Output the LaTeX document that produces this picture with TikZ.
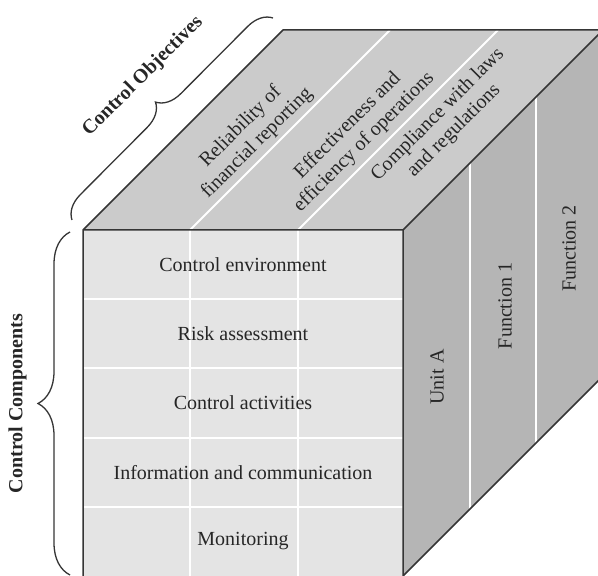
\documentclass[tikz,border=0pt]{standalone}
\usepackage{fontspec}
\setmainfont{Liberation Serif}
\usepackage{xcolor}
\usepackage{tikz}
\usetikzlibrary{calc,decorations.pathreplacing}

\definecolor{frontgray}{HTML}{E4E4E4}
\definecolor{topgray}{HTML}{CBCBCB}
\definecolor{sidegray}{HTML}{B5B5B5}
\definecolor{edgegray}{HTML}{353535}
\definecolor{inkgray}{HTML}{262626}

\begin{document}
\begin{tikzpicture}[x=0.5pt, y=0.5pt,
    edge/.style={draw=edgegray, line width=0.75pt, line join=round},
    gap/.style={draw=white, line width=1pt},
    lbl/.style={text=inkgray, font=\fontsize{10}{11.5}\selectfont, align=center, inner sep=0pt},
    hdr/.style={text=inkgray, font=\fontsize{10}{11.5}\selectfont\bfseries, inner sep=0pt},
    curly/.style={draw=edgegray, line width=0.65pt, decorate, decoration={brace, amplitude=#1}}]
    \useasboundingbox (0,0) rectangle (598,576);

    % cube corners, depth vector (200,200)
    \coordinate (A) at (83,0);
    \coordinate (B) at (403,0);
    \coordinate (C) at (403,346);
    \coordinate (D) at (83,346);
    \coordinate (E) at (283,546);
    \coordinate (F) at (603,546);
    \coordinate (G) at (603,200);

    \fill[frontgray] (A) -- (B) -- (C) -- (D) -- cycle;
    \fill[topgray] (D) -- (C) -- (F) -- (E) -- cycle;
    \fill[sidegray] (B) -- (G) -- (F) -- (C) -- cycle;

    % white gaps between the cells
    \foreach \y in {69.2, 138.4, 207.6, 276.8}
        \draw[gap] (83,\y) -- (403,\y);
    \foreach \x in {190, 298} {
        \draw[gap] (\x,0) -- (\x,346);
        \draw[gap] (\x,346) -- ++(200,200);
    }
    \foreach \s in {66.7, 133.3}
        \draw[gap] ($(B)+(\s,\s)$) -- ($(C)+(\s,\s)$);

    \draw[edge] (A) -- (D) -- (E) -- (F);
    \draw[edge] (D) -- (C) -- (F);
    \draw[edge] (C) -- (B) -- (G);

    % components on the front
    \foreach \name/\txt [count=\i] in {env/Control environment, risk/Risk assessment,
        act/Control activities, info/Information and communication, mon/Monitoring}
        \node[lbl] (\name) at (243, {380.6-69.2*\i}) {\txt};

    % objectives on the top
    \node[lbl, rotate=45] (rel) at (249,441) {Reliability of\\financial reporting};
    \node[lbl, rotate=45] (eff) at (356,442) {Effectiveness and\\efficiency of operations};
    \node[lbl, rotate=45] (comp) at (446,453) {Compliance with laws\\and regulations};

    % units on the side
    \node[lbl, rotate=90] (unit) at (437,199) {Unit A};
    \node[lbl, rotate=90] (fn1) at (505,270) {Function 1};
    \node[lbl, rotate=90] (fn2) at (569,327.5) {Function 2};

    \coordinate (cc1) at (70,1);
    \coordinate (cc2) at (70,344);
    \draw[curly=16pt] (cc1) -- (cc2);
    \node[hdr, rotate=90] (comps) at (17.5,172.5) {Control Components};

    \coordinate (co1) at (72,356);
    \coordinate (co2) at (273,558);
    \draw[curly=12pt] (co1) -- (co2);
    \node[hdr, rotate=45] (objs) at (143,499.5) {Control Objectives};
\end{tikzpicture}
\end{document}
